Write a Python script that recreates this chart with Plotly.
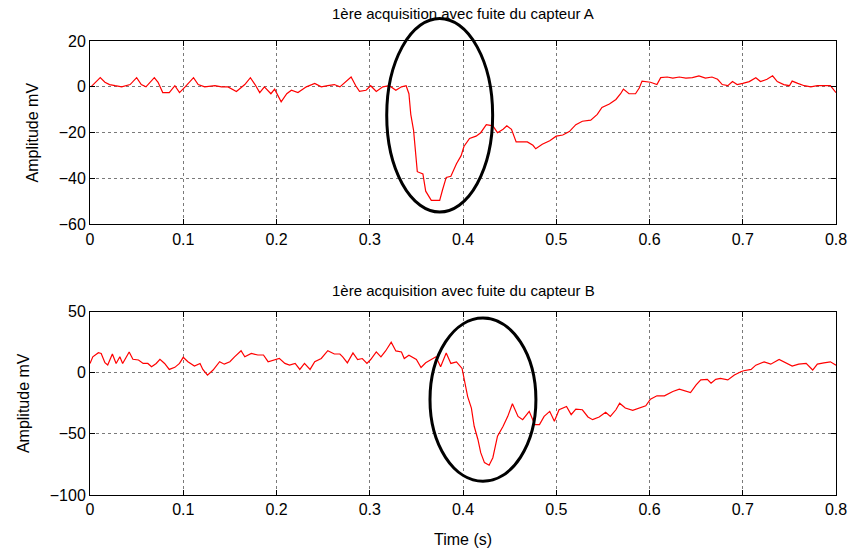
import plotly.graph_objects as go

# ---------------- data ----------------
title_a = "1ère acquisition avec fuite du capteur A"
title_b = "1ère acquisition avec fuite du capteur B"
x_label = "Time (s)"
y_label = "Amplitude mV"

t_a = [0.001, 0.005, 0.011, 0.016, 0.021, 0.027, 0.034, 0.043, 0.050, 0.055,
       0.060, 0.069, 0.073, 0.078, 0.085, 0.091, 0.096, 0.102, 0.111, 0.116,
       0.123, 0.134, 0.141, 0.148, 0.157, 0.166, 0.172, 0.177, 0.182, 0.187,
       0.194, 0.198, 0.205, 0.211, 0.216, 0.223, 0.232, 0.241, 0.248, 0.255,
       0.262, 0.268,
       0.271, 0.280, 0.285, 0.289, 0.296, 0.301, 0.307, 0.314, 0.321, 0.328,
       0.334, 0.339, 0.342, 0.344, 0.347, 0.349, 0.351, 0.357, 0.360, 0.366,
       0.375, 0.378, 0.382, 0.387, 0.393, 0.398, 0.401, 0.407, 0.414, 0.419,
       0.425, 0.432, 0.437, 0.443, 0.447, 0.452, 0.457, 0.464, 0.469, 0.475,
       0.478, 0.485, 0.493, 0.500, 0.507, 0.514, 0.521, 0.528, 0.534,
       0.537, 0.544, 0.549, 0.557, 0.564, 0.569, 0.572, 0.578, 0.585, 0.589,
       0.592, 0.601, 0.608, 0.612, 0.619, 0.625, 0.632, 0.639, 0.646, 0.653,
       0.660, 0.667, 0.673, 0.678, 0.684, 0.689, 0.694, 0.700, 0.707, 0.714,
       0.719, 0.726, 0.732, 0.737, 0.744, 0.750, 0.753, 0.759, 0.766, 0.773,
       0.780, 0.787, 0.794, 0.800]
v_a = [0, 1.5, 4, 2, 1, 0.5, 0, 1, 4, 1,
       0, 4, 2, -2.5, -2.5, 0.5, -2.5, 0, 4, 1,
       0, 0.5, 0, 0, -2, 1, 4, 1, -2.5, 0,
       -3, -1, -6.5, -3, -1.5, -2.5, 0, 1.5, 0, 0.5,
       1, 0,
       1, 4.3, 0.5, -2, -1.5, 0.5, -2, 0, 0.5, -1.5,
       0, 0.5, -3, -12, -19, -29, -37, -38, -45.5, -49.5,
       -49.5, -45, -39.5, -39, -33.5, -30, -26, -22.5, -21.5, -20,
       -16.5, -17, -20, -18.5, -17, -18.5, -24, -24, -24, -25.5,
       -27, -25, -23.5, -21.5, -21, -19.5, -16.5, -15, -14.5,
       -14.5, -12, -9, -7.5, -5.5, -3, -1, -3, -3, -0.5,
       2.5, 2, 1, 4, 4.3, 3.8, 4.3, 3.8, 4, 4.8,
       3.8, 4.3, 3.3, 1, 0.5, 2.3, 1, 1.5, 2.3, 4,
       2.3, 3.3, 4.8, 2.3, 1, 0.5, 2.5, 1.5, 0.5, 0,
       0.5, 0.5, 0.5, -2.5]

t_b = [0.000, 0.003, 0.009, 0.012, 0.016, 0.019, 0.024, 0.028, 0.032, 0.035,
       0.042, 0.046, 0.052, 0.057, 0.062, 0.066, 0.071, 0.075, 0.080, 0.085,
       0.091, 0.096, 0.100, 0.105, 0.112, 0.118, 0.121, 0.126, 0.132, 0.139,
       0.144, 0.150, 0.155, 0.162, 0.166, 0.173, 0.180, 0.186, 0.191, 0.198,
       0.203, 0.209, 0.214, 0.220, 0.225, 0.230, 0.236, 0.241, 0.248, 0.255,
       0.262, 0.268,
       0.271, 0.276, 0.282, 0.287, 0.292, 0.297, 0.301, 0.307, 0.312, 0.317,
       0.323, 0.328, 0.334, 0.337, 0.342, 0.350, 0.355, 0.360, 0.366, 0.371,
       0.376, 0.382, 0.387, 0.393, 0.399, 0.401, 0.405, 0.409, 0.412, 0.416,
       0.419, 0.423, 0.428, 0.432, 0.437, 0.443, 0.448, 0.453, 0.459, 0.464,
       0.471, 0.477, 0.482, 0.487, 0.493, 0.498, 0.503, 0.511, 0.516, 0.521,
       0.528, 0.534,
       0.539, 0.546, 0.553, 0.558, 0.564, 0.568, 0.574, 0.582, 0.589, 0.596,
       0.601, 0.608, 0.616, 0.625, 0.632, 0.639, 0.644, 0.650, 0.655, 0.662,
       0.666, 0.671, 0.676, 0.684, 0.691, 0.698, 0.701, 0.709, 0.714, 0.723,
       0.730, 0.739, 0.746, 0.753, 0.760, 0.768, 0.775, 0.780, 0.787, 0.794,
       0.800]
v_b = [7.6, 13, 16.4, 15.8, 8.2, 6.3, 15.3, 7.6, 13, 7.6,
       17, 11, 10.4, 7.6, 7.6, 4.9, 7.6, 11, 7.6, 2.7,
       4.4, 7.6, 12.6, 9, 5.5, 7.6, 2.7, -2, 2.2, 9,
       7, 9, 13, 18, 13, 15.8, 14.5, 14.5, 9, 10.4,
       11.7, 7.6, 6.3, 7.6, 2.7, 7.6, 2.7, 9, 11.7, 18,
       15.3, 15.3,
       13, 8.1, 16.2, 10.8, 11.6, 7.6, 10.8, 17, 13, 17.8,
       25, 17.8, 17, 11.6, 14.3, 10.8, 4.3, 8.1, 10.8, 13,
       4.9, 16.2, 7.6, 8.9, 3.5, -4.6, -19.5, -29, -43.8, -54.6,
       -65.4, -73.5, -75.7, -69.5, -51.9, -43.8, -35.7, -25.4, -35.7, -38.4,
       -31.6, -42.4, -42.4, -35.7, -31.6, -39.7, -30.3, -27.6, -34.3, -29.7,
       -30.3, -36.2,
       -38.4, -36.2, -32.4, -35.7, -30.3, -24.9, -28.9, -30.8, -28.9, -27,
       -21.6, -18.9, -18.9, -15.4, -13.5, -15.4, -16.2, -10, -5.9, -5.4,
       -8.6, -5.4, -4.6, -5.9, -1.9, 0.8, 1.6, 2.7, 6.2, 8.9,
       7, 10.8, 8.1, 5.4, 7, 7.6, 2.2, 7, 8.1, 8.9,
       6.2]

x_ticks = [0, 0.1, 0.2, 0.3, 0.4, 0.5, 0.6, 0.7, 0.8]
x_tick_text = ["0", "0.1", "0.2", "0.3", "0.4", "0.5", "0.6", "0.7", "0.8"]
ya_ticks = [-60, -40, -20, 0, 20]
yb_ticks = [-100, -50, 0, 50]

# highlighted regions (centre t, centre mV, half-width s, half-height mV)
ellipse_a = (0.375, -12.4, 0.0568, 42.2)
ellipse_b = (0.4214, -22.0, 0.0568, 66.8)

# ---------------- layout ----------------
W, H = 856, 558
ML, MR, MT, MB = 90, 20, 41, 63
x_range = [0, 0.8]
ya_range = [-60, 20]
yb_range = [-100, 50]
dom_a = [0.596, 1.0]
dom_b = [0.0, 0.404]

FONT = "Liberation Sans, Arial, Helvetica, sans-serif"
FS = 16

fig = go.Figure()
fig.add_trace(go.Scatter(x=t_a, y=v_a, mode="lines", line=dict(color="#ff0000", width=1.2),
                         xaxis="x", yaxis="y", showlegend=False))
fig.add_trace(go.Scatter(x=t_b, y=v_b, mode="lines", line=dict(color="#ff0000", width=1.2),
                         xaxis="x2", yaxis="y2", showlegend=False))

axis_common = dict(
    showline=True, linecolor="black", linewidth=1, mirror="ticks",
    ticks="inside", ticklen=5, tickcolor="black",
    showgrid=True, gridcolor="#7a7a7a", griddash="dot", gridwidth=1,
    zeroline=False, automargin=False,
    tickfont=dict(family=FONT, size=FS, color="black"),
)

fig.update_layout(
    width=W, height=H,
    margin=dict(l=ML, r=MR, t=MT, b=MB),
    paper_bgcolor="white", plot_bgcolor="white",
    font=dict(family=FONT, color="black"),
    xaxis=dict(domain=[0, 1], range=x_range, anchor="y", tickvals=x_ticks,
               ticktext=x_tick_text, **axis_common),
    yaxis=dict(domain=dom_a, range=ya_range, anchor="x", tickvals=ya_ticks,
               title=dict(text=y_label, font=dict(family=FONT, size=FS), standoff=16),
               **axis_common),
    xaxis2=dict(domain=[0, 1], range=x_range, anchor="y2", tickvals=x_ticks,
                ticktext=x_tick_text,
                title=dict(text=x_label, font=dict(family=FONT, size=FS), standoff=16),
                **axis_common),
    yaxis2=dict(domain=dom_b, range=yb_range, anchor="x2", tickvals=yb_ticks,
                title=dict(text=y_label, font=dict(family=FONT, size=FS), standoff=16),
                **axis_common),
)


def to_paper_x(v):
    return (v - x_range[0]) / (x_range[1] - x_range[0])


def to_paper_y(v, rng, dom):
    return dom[0] + (v - rng[0]) / (rng[1] - rng[0]) * (dom[1] - dom[0])


for (cx, cy, rx, ry), rng, dom in [(ellipse_a, ya_range, dom_a), (ellipse_b, yb_range, dom_b)]:
    fig.add_shape(type="circle", xref="paper", yref="paper",
                  x0=to_paper_x(cx - rx), x1=to_paper_x(cx + rx),
                  y0=to_paper_y(cy - ry, rng, dom), y1=to_paper_y(cy + ry, rng, dom),
                  line=dict(color="black", width=3), fillcolor="rgba(0,0,0,0)")

for txt, dom, shift in [(title_a, dom_a, 17), (title_b, dom_b, 11)]:
    fig.add_annotation(text=txt, xref="paper", yref="paper", x=0.5, y=dom[1],
                       xanchor="center", yanchor="bottom", yshift=shift, showarrow=False,
                       font=dict(family=FONT, size=15, color="black"))

fig.write_html("out.html")
